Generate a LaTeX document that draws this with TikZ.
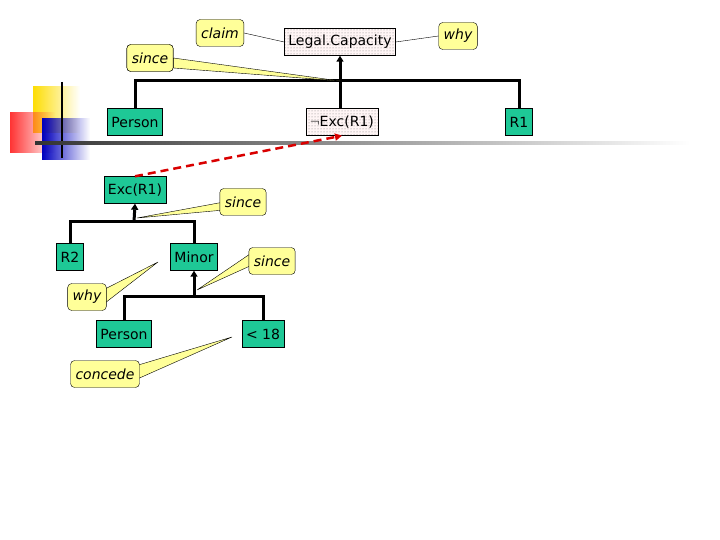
\documentclass[tikz,border=0pt]{standalone}
\usepackage{fontspec}
\setmainfont{DejaVu Sans}
\usetikzlibrary{patterns,arrows.meta,fadings,calc}
\definecolor{boxgreen}{RGB}{30,200,150}
\definecolor{noteyellow}{RGB}{255,255,153}
\tikzset{
  fact/.style={draw, fill=boxgreen, minimum height=27pt, inner xsep=4pt, font=\fontsize{14}{16}\selectfont},
  claimbox/.style={draw, preaction={fill=red!4}, pattern=dots, pattern color=gray, minimum height=27pt, inner xsep=4pt, font=\fontsize{14}{16}\selectfont},
  note/.style={draw, fill=noteyellow, rounded corners=4pt, minimum height=27pt, inner xsep=5pt, font=\fontsize{14}{16}\selectfont\itshape},
  tailstyle/.style={draw, fill=noteyellow},
  link/.style={line width=3pt},
  support/.style={line width=3pt, -{Triangle[length=6pt,width=7pt]}},
}
\begin{document}
\begin{tikzpicture}[x=1pt,y=-1pt]
  \useasboundingbox (0,0) rectangle (720,540);
  % decoration
  \fill[yellow!80!orange, path fading=east] (33,86) rectangle (80,133);
  \fill[red!80, path fading=east] (10,112) rectangle (55,153);
  \fill[blue!75!black, path fading=east] (42,118) rectangle (90,160);
  \draw[line width=2pt] (62,82) -- (62,158);
  \shade[left color=black!80, right color=white] (35,142) rectangle (690,144.5);
  % top argument
  \node[claimbox] (legal) at (340,42) {Legal.Capacity};
  \node[fact] (person) at (135,122) {Person};
  \node[claimbox] (notexc) at (342,122) {$\neg$Exc(R1)};
  \node[fact] (r1) at (519,122) {R1};
  \coordinate (j1) at (340,81);
  \draw[link] (person.north) |- (j1) -| (r1.north);
  \draw[link] (notexc.north -| j1) -- (j1);
  \draw[support] (j1) -- (legal.south);
  \node[note] (claim) at (220,33) {claim};
  \node[note] (why1) at (458,36) {why};
  \node[note] (since1) at (150,58) {since};
  \draw (claim.east) -- (legal.west);
  \draw (why1.west) -- (legal.east);
  \path[tailstyle] (since1.east) -- (j1) -- ($(since1.east)+(0,10)$) -- cycle;
  \node[note] at (since1) {since};
  % second argument
  \node[fact] (exc) at (135,190) {Exc(R1)};
  \draw[red!85!black, line width=2.5pt, dash pattern=on 8pt off 5pt, -{Triangle[length=7pt,width=7pt]}] (exc.north) -- (notexc.south);
  \node[fact] (r2) at (70,257) {R2};
  \node[fact] (minor) at (194,257) {Minor};
  \coordinate (j2) at (134,222);
  \draw[link] (r2.north) |- (j2) -| (minor.north);
  \draw[support] (j2) -- (exc.south);
  \path[tailstyle] (224,202) -- (137,218) -- (224,210) -- cycle;
  \node[note] (since2) at (243,202) {since};
  % third argument
  \node[fact] (person2) at (124,334) {Person};
  \node[fact] (under) at (263,334) {< 18};
  \coordinate (j3) at (194,296);
  \draw[link] (person2.north) |- (j3) -| (under.north);
  \draw[support] (j3) -- (minor.south);
  \coordinate (t3) at (197,290);
  \coordinate (t4) at (158,262);
  \coordinate (t5) at (232,337);
  \path[tailstyle] (250,254) -- (t3) -- (250,266) -- cycle;
  \node[note] (since3) at (272,261) {since};
  \path[tailstyle] (105,289) -- (t4) -- (105,303) -- cycle;
  \node[note] (why2) at (87,297) {why};
  \path[tailstyle] (135,366) -- (t5) -- (135,380) -- cycle;
  \node[note] (concede) at (105,374) {concede};
\end{tikzpicture}
\end{document}
